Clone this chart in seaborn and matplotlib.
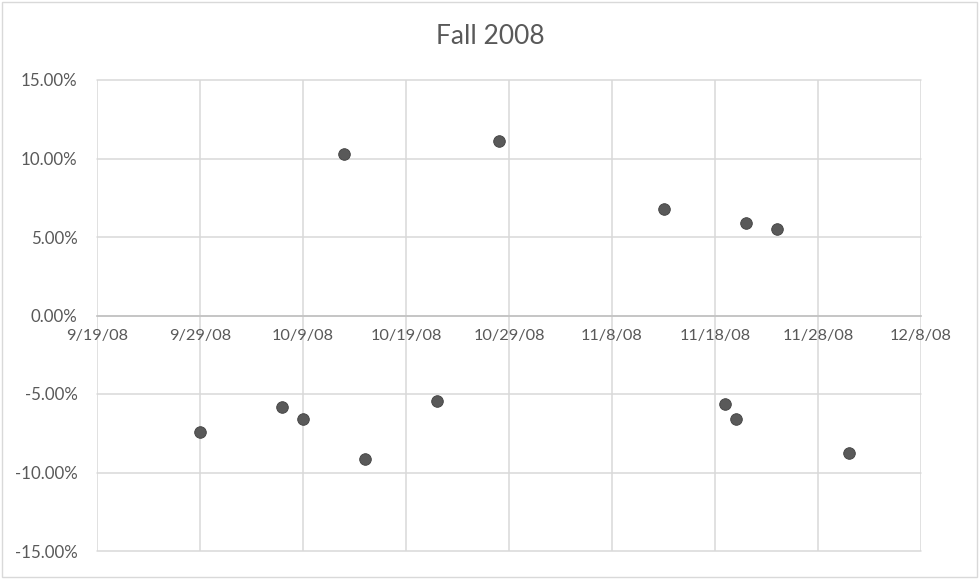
import matplotlib
matplotlib.use("Agg")
import matplotlib.pyplot as plt
import matplotlib.dates as mdates
import matplotlib.ticker as mticker
import pandas as pd
import seaborn as sns
from matplotlib.patches import Rectangle

# Daily moves (percent)
dates = ["2008-09-29", "2008-10-07", "2008-10-09", "2008-10-13", "2008-10-15",
         "2008-10-22", "2008-10-28", "2008-11-13", "2008-11-19", "2008-11-20",
         "2008-11-21", "2008-11-24", "2008-12-01"]
returns = [-7.41, -5.80, -6.60, 10.27, -9.16,
           -5.46, 11.11, 6.81, -5.63, -6.62,
           5.90, 5.50, -8.74]
y_ticks = [-15, -10, -5, 0, 5, 10, 15]

df = pd.DataFrame({"date": pd.to_datetime(dates), "ret": returns})

sns.set_style("white")
plt.rcParams["font.family"] = ["Lato", "DejaVu Sans"]

text_col = "#595959"
grid_col = "#d9d9d9"

fig = plt.figure(figsize=(9.8, 5.79), dpi=100)
ax = fig.add_axes([97 / 980, 1 - 551 / 579, (921 - 97) / 980, (551 - 80) / 579])

sns.scatterplot(data=df, x="date", y="ret", ax=ax, s=70, color="#595959",
                edgecolor="#404040", linewidth=0.6, zorder=3)

start = pd.Timestamp("2008-09-19")
end = pd.Timestamp("2008-12-08")
ax.set_xlim(start, end)
ax.set_ylim(-15, 15)

x_ticks = pd.date_range(start, end, freq="10D")
ax.set_xticks(x_ticks)
ax.xaxis.set_major_formatter(
    mticker.FuncFormatter(lambda v, pos: (lambda d: f"{d.month}/{d.day}/{d:%y}")(mdates.num2date(v))))
ax.set_yticks(y_ticks)
ax.yaxis.set_major_formatter(mticker.FuncFormatter(lambda v, pos: f"{v:.2f}%"))

ax.grid(True, color=grid_col, linewidth=1.1)
for gl in ax.get_xgridlines() + ax.get_ygridlines():
    gl.set_clip_on(False)
ax.set_axisbelow(True)

for side in ["left", "right", "top"]:
    ax.spines[side].set_visible(False)
ax.spines["bottom"].set_position(("data", 0))
ax.spines["bottom"].set_color("#bfbfbf")
ax.spines["bottom"].set_linewidth(1.1)

ax.tick_params(axis="x", length=0, pad=10, labelsize=11.8, labelcolor=text_col)
ax.tick_params(axis="y", length=0, pad=14, labelsize=12.2, labelcolor=text_col)
ax.set_xlabel("")
ax.set_ylabel("")

fig.text(0.5, 1 - 37 / 579, "Fall 2008", fontsize=19, color=text_col,
         ha="center", va="center")

fig.patches.append(Rectangle((0.002, 0.003), 0.995, 0.994, transform=fig.transFigure,
                             fill=False, edgecolor=grid_col, linewidth=1))

fig.savefig("out.png", dpi=100)
